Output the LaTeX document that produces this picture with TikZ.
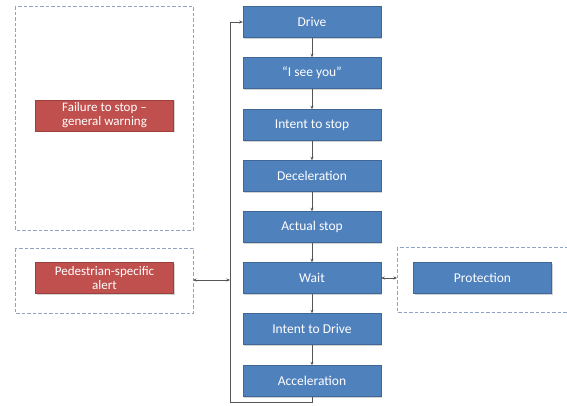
\documentclass[tikz,border=0pt]{standalone}
\usepackage{fontspec}
\setmainfont{Carlito}
\usetikzlibrary{arrows.meta,shadows}
\definecolor{boxblue}{HTML}{4F81BD}
\definecolor{boxred}{HTML}{C0504D}
\definecolor{dashcol}{HTML}{8FA3C4}
\definecolor{linecol}{HTML}{555555}
\tikzset{
  bluebox/.style={fill=boxblue, draw=boxblue!80!black, line width=0.4pt, text=white,
    minimum width=138pt, minimum height=31pt, inner sep=1pt, font=\fontsize{13.5}{14}\selectfont,
    drop shadow={shadow xshift=1pt, shadow yshift=-1pt, fill=black!35, opacity=0.5}},
  redbox/.style={bluebox, fill=boxred, draw=boxred!80!black, align=center,
    font=\fontsize{13}{14}\selectfont},
  dashbox/.style={draw=dashcol, line width=0.9pt, dash pattern=on 3.5pt off 2pt},
  conn/.style={draw=linecol, line width=0.6pt, -{Stealth[length=3.5pt,width=3pt]}},
  dconn/.style={draw=linecol, line width=0.6pt, {Stealth[length=3.5pt,width=3pt]}-{Stealth[length=3.5pt,width=3pt]}}
}
\begin{document}
\begin{tikzpicture}[x=1pt,y=-1pt]
\useasboundingbox (0,0) rectangle (567,405);
\fill[white] (0,0) rectangle (567,405);
% dashed frames
\draw[dashbox] (15,6) rectangle (193,230);
\draw[dashbox] (15,248) rectangle (193,313);
\draw[dashbox] (397,247) rectangle (580,312);
\node[coordinate] (pedframe) at (193,280) {};
\node[coordinate] (protframe) at (397,278) {};
% blue chain
\node[bluebox] (drive) at (312,22) {Drive};
\node[bluebox] (isee) at (312,73) {“I see you”};
\node[bluebox] (intstop) at (312,125) {Intent to stop};
\node[bluebox] (decel) at (312,176) {Deceleration};
\node[bluebox] (astop) at (312,227) {Actual stop};
\node[bluebox] (wait) at (312,278) {Wait};
\node[bluebox] (intdrive) at (312,329) {Intent to Drive};
\node[bluebox] (accel) at (312,381) {Acceleration};
% red boxes and protection
\node[redbox] (fail) at (104.5,115.5) {Failure to stop –\\[0pt]general warning};
\node[redbox] (ped) at (104.5,278) {Pedestrian-specific\\[0pt]alert};
\node[bluebox] (prot) at (482.5,278) {Protection};
% connectors
\draw[conn] (drive) -- (isee);
\draw[conn] (isee) -- (intstop);
\draw[conn] (intstop) -- (decel);
\draw[conn] (decel) -- (astop);
\draw[conn] (astop) -- (wait);
\draw[conn] (wait) -- (intdrive);
\draw[conn] (intdrive) -- (accel);
\coordinate (lb) at (230,402);
\coordinate (lj) at (230,280);
\draw[conn] (accel.south) |- (lb) |- (drive.west);
\draw[dconn] (pedframe) -- (lj);
\draw[dconn] (wait.east) -- (protframe);
\end{tikzpicture}
\end{document}
